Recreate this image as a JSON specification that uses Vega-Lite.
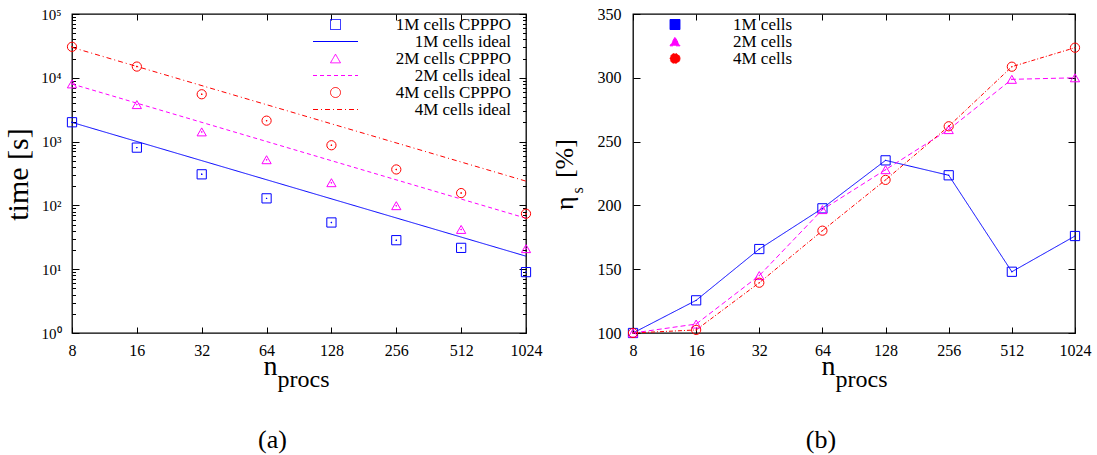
{
  "$schema": "https://vega.github.io/schema/vega-lite/v6.json",
  "background": "white",
  "padding": {"left": 2, "top": 5, "right": 2, "bottom": 2},
  "spacing": 7,
  "resolve": {
    "scale": {"color": "independent", "stroke": "independent", "fill": "independent", "shape": "independent", "strokeDash": "independent"},
    "legend": {"color": "independent", "stroke": "independent", "fill": "independent", "shape": "independent", "strokeDash": "independent"}
  },
  "config": {
    "view": {"stroke": "black", "strokeWidth": 1.3},
    "axis": {"grid": false, "domain": false, "tickColor": "black", "tickWidth": 1, "labelFont": "Liberation Serif", "labelFontSize": 16, "labelColor": "black", "titleFont": "Liberation Serif", "titleColor": "black", "titleFontWeight": "normal", "labelFlush": false, "labelOverlap": false},
    "legend": {"labelFont": "Liberation Serif", "labelFontSize": 17, "labelColor": "black"},
    "title": {"font": "Liberation Serif", "fontSize": 26, "fontWeight": "normal", "color": "black"}
  },
  "datasets": {
    "time": [
      {"label": "1M cells CPPPO", "n": 8, "t": 2010}, {"label": "1M cells CPPPO", "n": 16, "t": 805}, {"label": "1M cells CPPPO", "n": 32, "t": 307}, {"label": "1M cells CPPPO", "n": 64, "t": 129}, {"label": "1M cells CPPPO", "n": 128, "t": 54}, {"label": "1M cells CPPPO", "n": 256, "t": 28.5}, {"label": "1M cells CPPPO", "n": 512, "t": 21.6}, {"label": "1M cells CPPPO", "n": 1024, "t": 9},
      {"label": "2M cells CPPPO", "n": 8, "t": 8020}, {"label": "2M cells CPPPO", "n": 16, "t": 3800}, {"label": "2M cells CPPPO", "n": 32, "t": 1420}, {"label": "2M cells CPPPO", "n": 64, "t": 520}, {"label": "2M cells CPPPO", "n": 128, "t": 227}, {"label": "2M cells CPPPO", "n": 256, "t": 99}, {"label": "2M cells CPPPO", "n": 512, "t": 42}, {"label": "2M cells CPPPO", "n": 1024, "t": 21},
      {"label": "4M cells CPPPO", "n": 8, "t": 30600}, {"label": "4M cells CPPPO", "n": 16, "t": 15000}, {"label": "4M cells CPPPO", "n": 32, "t": 5520}, {"label": "4M cells CPPPO", "n": 64, "t": 2130}, {"label": "4M cells CPPPO", "n": 128, "t": 877}, {"label": "4M cells CPPPO", "n": 256, "t": 366}, {"label": "4M cells CPPPO", "n": 512, "t": 156}, {"label": "4M cells CPPPO", "n": 1024, "t": 74},
      {"label": "1M cells ideal", "n": 8, "t": 2000}, {"label": "1M cells ideal", "n": 1024, "t": 16},
      {"label": "2M cells ideal", "n": 8, "t": 8000}, {"label": "2M cells ideal", "n": 1024, "t": 63},
      {"label": "4M cells ideal", "n": 8, "t": 30000}, {"label": "4M cells ideal", "n": 1024, "t": 240}
    ],
    "eta": [
      {"series": "1M cells", "n": 8, "eta": 100}, {"series": "1M cells", "n": 16, "eta": 125.6}, {"series": "1M cells", "n": 32, "eta": 165.8}, {"series": "1M cells", "n": 64, "eta": 197.7}, {"series": "1M cells", "n": 128, "eta": 235.3}, {"series": "1M cells", "n": 256, "eta": 223.6}, {"series": "1M cells", "n": 512, "eta": 148}, {"series": "1M cells", "n": 1024, "eta": 176},
      {"series": "2M cells", "n": 8, "eta": 100}, {"series": "2M cells", "n": 16, "eta": 107}, {"series": "2M cells", "n": 32, "eta": 145}, {"series": "2M cells", "n": 64, "eta": 196.7}, {"series": "2M cells", "n": 128, "eta": 228}, {"series": "2M cells", "n": 256, "eta": 259.4}, {"series": "2M cells", "n": 512, "eta": 298.8}, {"series": "2M cells", "n": 1024, "eta": 300},
      {"series": "4M cells", "n": 8, "eta": 100}, {"series": "4M cells", "n": 16, "eta": 102.4}, {"series": "4M cells", "n": 32, "eta": 139.4}, {"series": "4M cells", "n": 64, "eta": 180.2}, {"series": "4M cells", "n": 128, "eta": 220}, {"series": "4M cells", "n": 256, "eta": 262}, {"series": "4M cells", "n": 512, "eta": 308.7}, {"series": "4M cells", "n": 1024, "eta": 323.6}
    ]
  },
  "hconcat": [
    {
      "width": 454,
      "height": 319,
      "title": {"text": "(a)", "orient": "bottom", "frame": "bounds", "anchor": "middle", "offset": 36},
      "data": {"name": "time"},
      "layer": [
        {
          "transform": [{"filter": "indexof(datum.label, 'ideal') >= 0"}],
          "mark": {"type": "line", "strokeWidth": 1},
          "encoding": {
            "x": {"field": "n", "type": "quantitative", "scale": {"type": "log", "base": 2, "domain": [8, 1024], "nice": false},
              "axis": {"orient": "top", "values": [8, 16, 32, 64, 128, 256, 512, 1024], "labels": false, "tickSize": -6, "title": "procs", "titleX": 205, "titleY": 372, "titleAlign": "left", "titleBaseline": "alphabetic", "titleAngle": 0, "titleFontSize": 24}},
            "y": {"field": "t", "type": "quantitative", "scale": {"type": "log", "domain": [1, 100000], "nice": false},
              "axis": {"orient": "right", "labels": false, "title": null, "values": [1, 10, 100, 1000, 10000, 100000], "tickSize": -7}},
            "stroke": {"field": "label", "type": "nominal",
              "scale": {"domain": ["1M cells CPPPO", "1M cells ideal", "2M cells CPPPO", "2M cells ideal", "4M cells CPPPO", "4M cells ideal"], "range": ["#0000ff", "#0000ff", "#ff00ff", "#ff00ff", "#ff0000", "#ff0000"]},
              "legend": {"orient": "none", "legendX": 255, "legendY": 2, "title": null, "labelAlign": "right", "labelOffset": 167, "symbolSize": 100, "rowPadding": -1.5, "padding": 0, "symbolStrokeWidth": 1, "symbolFillColor": "transparent"}},
            "strokeDash": {"field": "label", "type": "nominal",
              "scale": {"domain": ["1M cells CPPPO", "1M cells ideal", "2M cells CPPPO", "2M cells ideal", "4M cells CPPPO", "4M cells ideal"], "range": [[1, 0], [1, 0], [1, 0], [4, 3], [1, 0], [5, 3, 1, 3]]}}
          }
        },
        {
          "transform": [{"filter": "indexof(datum.label, 'CPPPO') >= 0"}],
          "mark": {"type": "point", "filled": false, "size": 85, "strokeWidth": 1, "opacity": 1},
          "encoding": {
            "x": {"field": "n", "type": "quantitative",
              "axis": {"orient": "bottom", "values": [8, 16, 32, 64, 128, 256, 512, 1024], "format": "d", "tickSize": -6, "labelPadding": 15, "title": "n", "titleX": 205, "titleY": 41, "titleAlign": "right", "titleBaseline": "alphabetic", "titleFontSize": 28}},
            "y": {"field": "t", "type": "quantitative",
              "axis": {"orient": "left", "labelFontSize": 15, "labelPadding": 18, "values": [1, 10, 100, 1000, 10000, 100000],
                "labelExpr": "datum.value == 1 ? '10\u2070' : datum.value == 10 ? '10\u00b9' : datum.value == 100 ? '10\u00b2' : datum.value == 1000 ? '10\u00b3' : datum.value == 10000 ? '10\u2074' : '10\u2075'",
                "tickSize": -7,
                "title": "time [s]", "titleFontSize": 30, "titleX": -45, "titleY": 160, "titleAngle": 270, "titleAlign": "center", "titleBaseline": "alphabetic"}},
            "stroke": {"field": "label", "type": "nominal",
              "legend": {"orient": "none", "legendX": 255, "legendY": 2, "title": null, "labelAlign": "right", "labelOffset": 167, "symbolSize": 100, "rowPadding": -1.5, "padding": 0, "symbolStrokeWidth": 1, "symbolFillColor": "transparent"}},
            "shape": {"field": "label", "type": "nominal",
              "scale": {"domain": ["1M cells CPPPO", "1M cells ideal", "2M cells CPPPO", "2M cells ideal", "4M cells CPPPO", "4M cells ideal"], "range": ["square", "M-4.5,0H4.5", "triangle-up", "M-4.5,0H4.5", "circle", "M-4.5,0H4.5"]},
              "legend": {"orient": "none", "legendX": 255, "legendY": 2, "title": null, "labelAlign": "right", "labelOffset": 167, "symbolSize": 100, "rowPadding": -1.5, "padding": 0, "symbolStrokeWidth": 1, "symbolFillColor": "transparent"}}
          }
        },
        {
          "transform": [{"filter": "indexof(datum.label, 'CPPPO') >= 0"}],
          "mark": {"type": "point", "filled": true, "size": 2, "opacity": 1},
          "encoding": {
            "x": {"field": "n", "type": "quantitative", "axis": null},
            "y": {"field": "t", "type": "quantitative",
              "axis": {"orient": "left", "labels": false, "title": null, "tickSize": -3.5,
                "values": [2, 3, 4, 5, 6, 7, 8, 9, 20, 30, 40, 50, 60, 70, 80, 90, 200, 300, 400, 500, 600, 700, 800, 900, 2000, 3000, 4000, 5000, 6000, 7000, 8000, 9000, 20000, 30000, 40000, 50000, 60000, 70000, 80000, 90000]}},
            "fill": {"field": "label", "type": "nominal", "scale": {"domain": ["1M cells CPPPO", "2M cells CPPPO", "4M cells CPPPO"], "range": ["#0000ff", "#ff00ff", "#ff0000"]}, "legend": null}
          }
        },
        {
          "transform": [{"filter": "indexof(datum.label, 'CPPPO') >= 0"}],
          "mark": {"type": "point", "filled": true, "size": 2, "opacity": 1},
          "encoding": {
            "x": {"field": "n", "type": "quantitative", "axis": null},
            "y": {"field": "t", "type": "quantitative",
              "axis": {"orient": "right", "labels": false, "title": null, "tickSize": -3.5,
                "values": [2, 3, 4, 5, 6, 7, 8, 9, 20, 30, 40, 50, 60, 70, 80, 90, 200, 300, 400, 500, 600, 700, 800, 900, 2000, 3000, 4000, 5000, 6000, 7000, 8000, 9000, 20000, 30000, 40000, 50000, 60000, 70000, 80000, 90000]}},
            "fill": {"field": "label", "type": "nominal", "legend": null}
          }
        }
      ],
      "resolve": {"axis": {"x": "independent", "y": "independent"}}
    },
    {
      "width": 442,
      "height": 319,
      "title": {"text": "(b)", "orient": "bottom", "frame": "bounds", "anchor": "middle", "offset": 36},
      "data": {"name": "eta"},
      "layer": [
        {
          "mark": {"type": "line", "strokeWidth": 1},
          "encoding": {
            "x": {"field": "n", "type": "quantitative", "scale": {"type": "log", "base": 2, "domain": [8, 1024], "nice": false},
              "axis": {"orient": "bottom", "values": [8, 16, 32, 64, 128, 256, 512, 1024], "format": "d", "tickSize": -6, "labelPadding": 15, "title": "n", "titleX": 202, "titleY": 41, "titleAlign": "right", "titleBaseline": "alphabetic", "titleFontSize": 28}},
            "y": {"field": "eta", "type": "quantitative", "scale": {"domain": [100, 350], "nice": false, "zero": false},
              "axis": {"orient": "left", "values": [100, 150, 200, 250, 300, 350], "tickSize": -7, "labelPadding": 19,
                "title": "\u03b7\u2002\u2009[%]", "titleFontSize": 26, "titleX": -61, "titleY": 160, "titleAngle": 270, "titleAlign": "center", "titleBaseline": "alphabetic"}},
            "stroke": {"field": "series", "type": "nominal",
              "scale": {"domain": ["1M cells", "2M cells", "4M cells"], "range": ["#0000ff", "#ff00ff", "#ff0000"]},
              "legend": {"orient": "none", "legendX": 33.5, "legendY": 2, "title": null, "labelOffset": 49.5, "symbolSize": 100, "rowPadding": -2.5, "padding": 0, "symbolStrokeWidth": 1, "symbolFillColor": "transparent"}},
            "strokeDash": {"field": "series", "type": "nominal",
              "scale": {"domain": ["1M cells", "2M cells", "4M cells"], "range": [[1, 0], [5, 3], [4, 2, 1, 2]]}, "legend": null}
          }
        },
        {
          "mark": {"type": "point", "filled": false, "size": 85, "strokeWidth": 1, "opacity": 1},
          "encoding": {
            "x": {"field": "n", "type": "quantitative",
              "axis": {"orient": "top", "values": [8, 16, 32, 64, 128, 256, 512, 1024], "labels": false, "tickSize": -6, "title": "procs", "titleX": 202, "titleY": 372, "titleAlign": "left", "titleBaseline": "alphabetic", "titleAngle": 0, "titleFontSize": 24}},
            "y": {"field": "eta", "type": "quantitative",
              "axis": {"orient": "right", "values": [100, 150, 200, 250, 300, 350], "labels": false, "tickSize": -7,
                "title": "s", "titleFontSize": 16, "titleX": -493, "titleY": 176, "titleAngle": 270, "titleAlign": "center", "titleBaseline": "alphabetic"}},
            "stroke": {"field": "series", "type": "nominal",
              "legend": {"orient": "none", "legendX": 33.5, "legendY": 2, "title": null, "labelOffset": 49.5, "symbolSize": 100, "rowPadding": -2.5, "padding": 0, "symbolStrokeWidth": 1, "symbolFillColor": "transparent"}},
            "shape": {"field": "series", "type": "nominal", "scale": {"domain": ["1M cells", "2M cells", "4M cells"], "range": ["square", "triangle-up", "circle"]},
              "legend": {"orient": "none", "legendX": 33.5, "legendY": 2, "title": null, "labelOffset": 49.5, "symbolSize": 100, "rowPadding": -2.5, "padding": 0, "symbolStrokeWidth": 1, "symbolFillColor": "transparent"}}
          }
        },
        {
          "mark": {"type": "point", "filled": true, "size": 2, "opacity": 1},
          "encoding": {
            "x": {"field": "n", "type": "quantitative", "axis": null},
            "y": {"field": "eta", "type": "quantitative", "axis": null},
            "fill": {"field": "series", "type": "nominal", "scale": {"domain": ["1M cells", "2M cells", "4M cells"], "range": ["#0000ff", "#ff00ff", "#ff0000"]}, "legend": null}
          }
        }
      ],
      "resolve": {"axis": {"x": "independent", "y": "independent"}}
    }
  ]
}
